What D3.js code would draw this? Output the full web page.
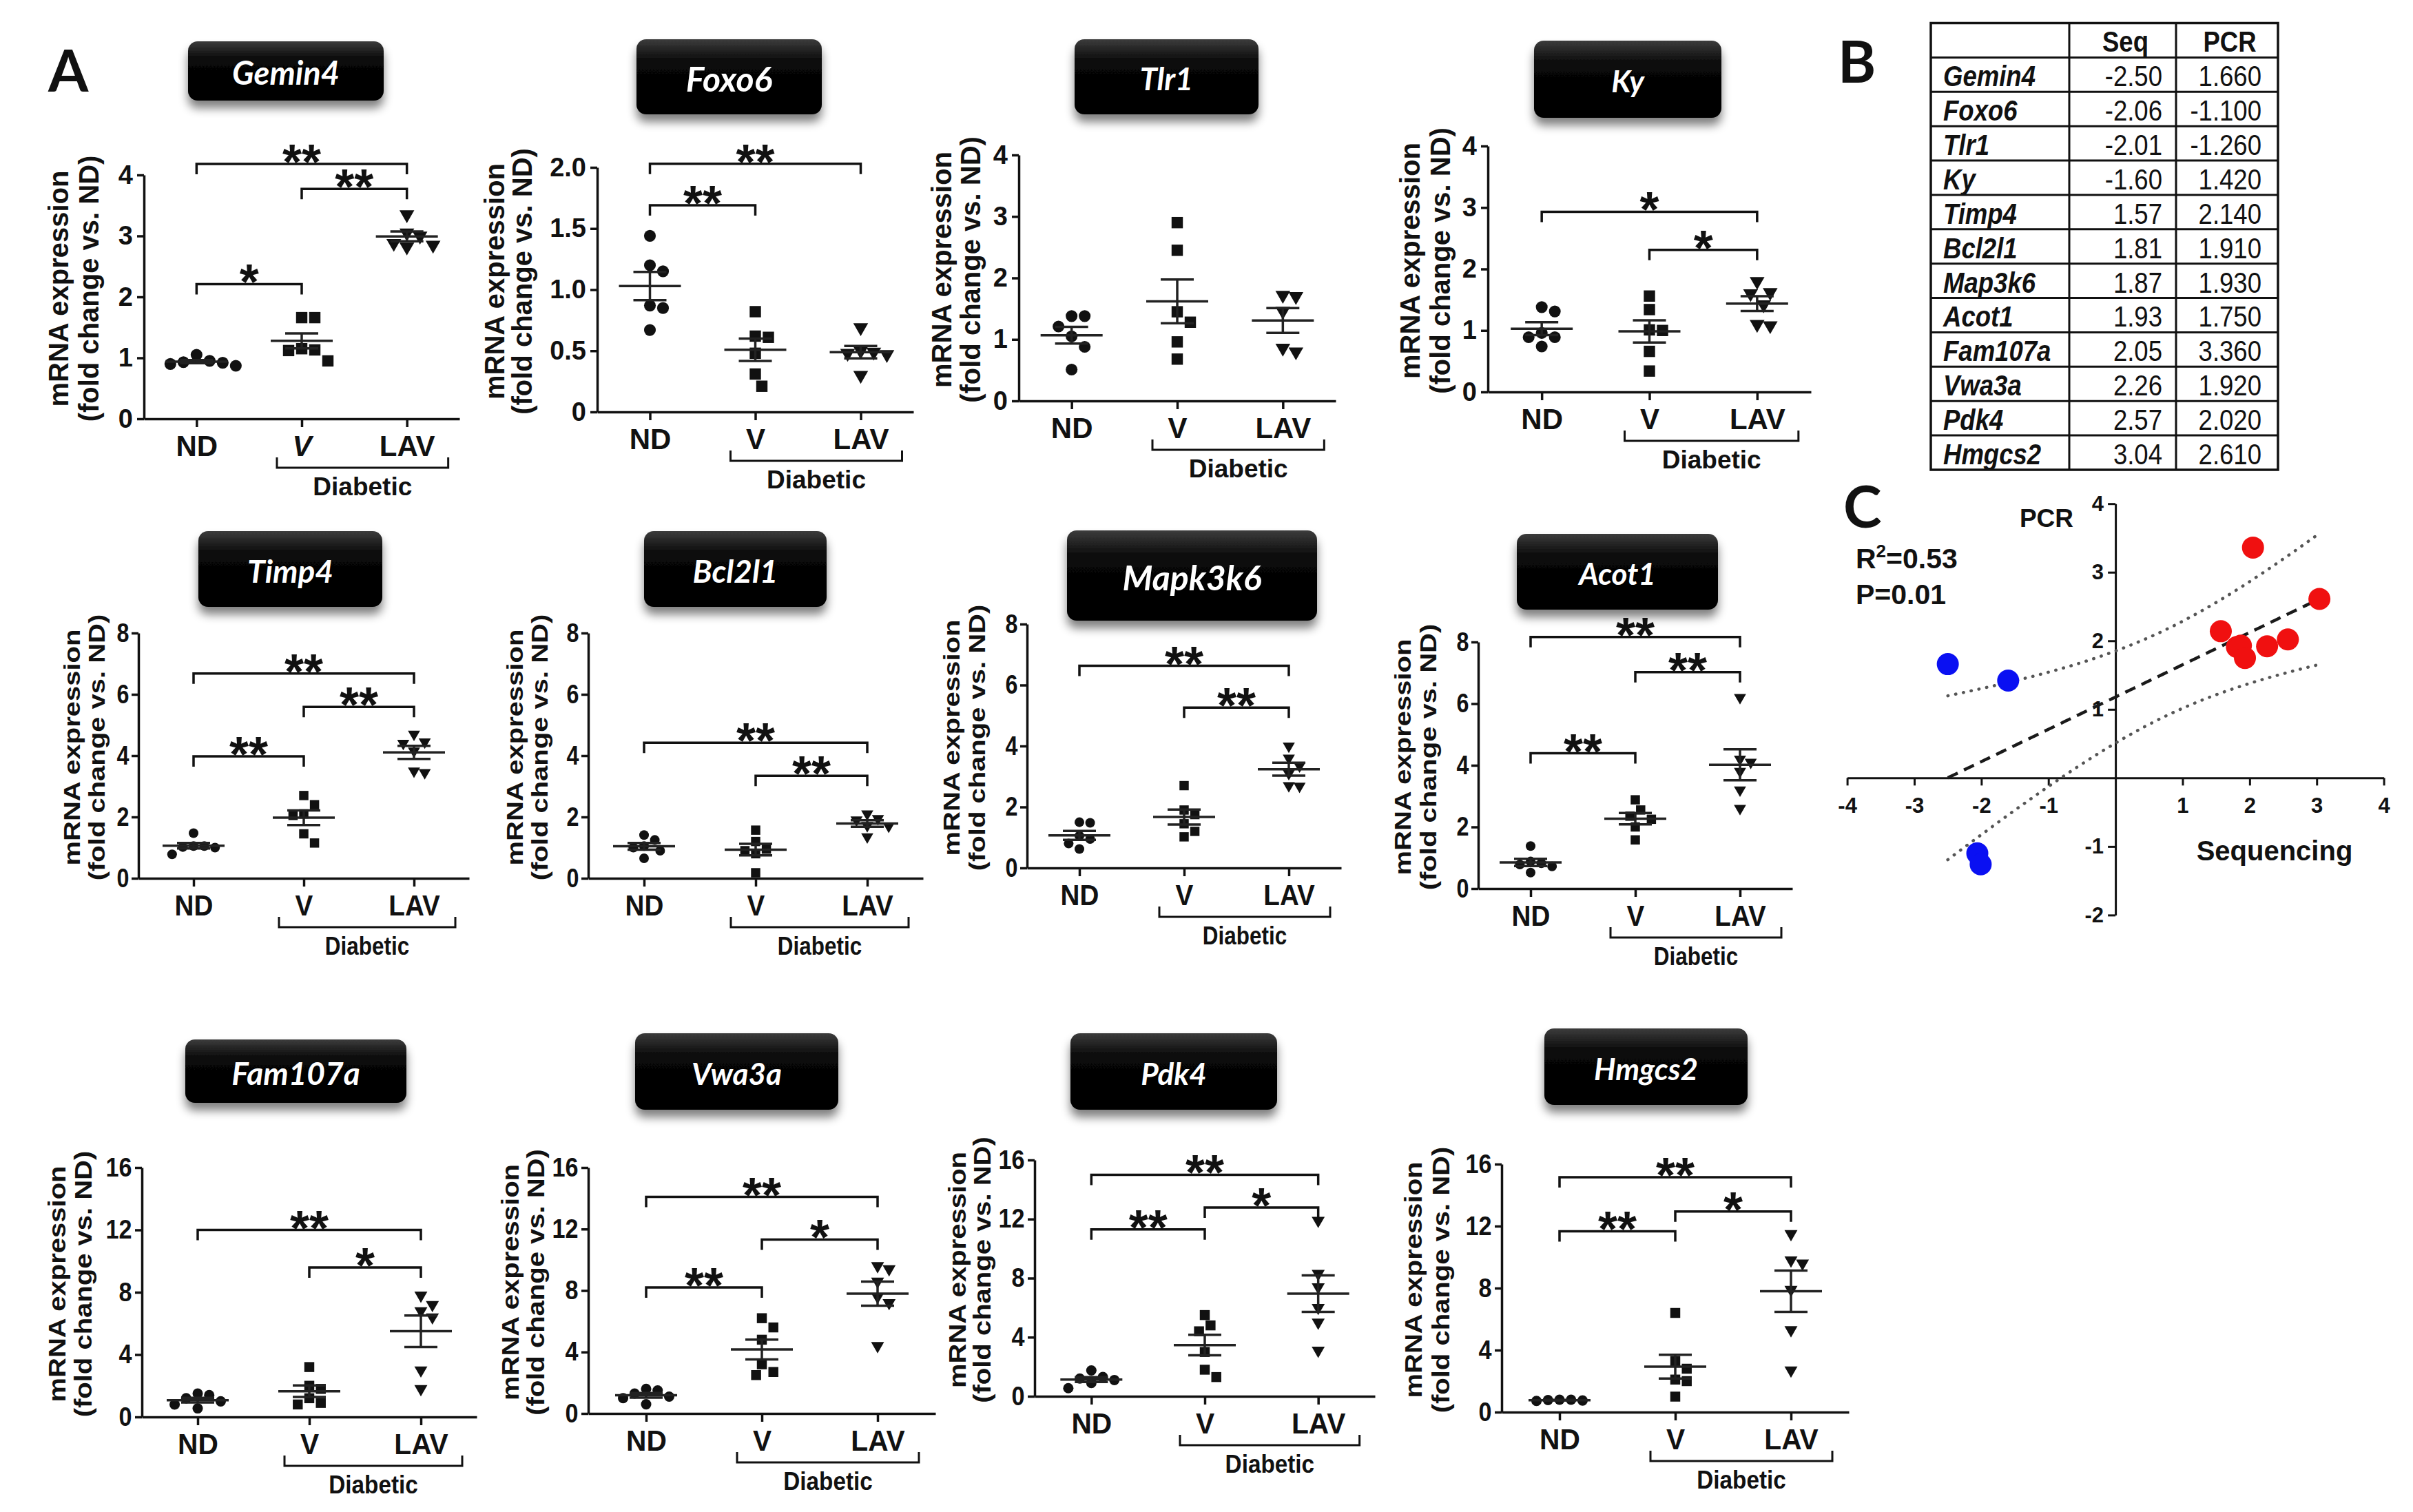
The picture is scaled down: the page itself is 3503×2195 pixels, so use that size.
<!DOCTYPE html>
<html lang="en">
<head>
<meta charset="UTF-8">
<title>mRNA expression, sequencing vs PCR</title>
<script src="https://d3js.org/d3.v7.min.js"></script>
<style>
  body { margin: 0; background: #fff; }
  svg text { font-family: "Liberation Sans", Arial, sans-serif; fill: #111; }
  .axis path, .axis line { fill: none; stroke: #111; stroke-width: 3.5; }
  .axis text { font-size: 38px; font-weight: bold; }
  .xax text { font-size: 42px; }
  .ytitle { font-size: 40px; font-weight: bold; }
  .stars { font-size: 72px; font-weight: bold; }
  .diab { font-size: 37px; font-weight: bold; }
  .boxlabel { font-family: Lato, "Open Sans", sans-serif !important; font-weight: bold; font-style: italic; fill: #fff !important; }
  .letter { font-family: Lato, "Open Sans", sans-serif !important; font-weight: bold; font-size: 84px; }
  .tbl { font-size: 42px; }
  .cax path, .cax line { fill: none; stroke: #111; stroke-width: 3; }
  .cax text { font-size: 31px; font-weight: bold; }
  .clabel { font-size: 40px; font-weight: bold; }
</style>
</head>
<body>
<svg id="fig" width="3503" height="2195"></svg>
<script>
// ---- panel A data: fold change vs ND, one array per animal group ----
var genes = ["Gemin4", "Foxo6", "Tlr1", "Ky", "Timp4", "Bcl2l1", "Mapk3k6", "Acot1", "Fam107a", "Vwa3a", "Pdk4", "Hmgcs2"];
var groups = ["ND", "V", "LAV"];

var ndValues = [
  [0.92, 1.05, 0.90, 0.95, 0.93, 0.87],
  [1.44, 1.20, 1.15, 0.87, 0.85, 0.67],
  [1.38, 1.38, 1.21, 1.05, 0.88, 0.51],
  [1.31, 1.38, 0.96, 0.89, 0.89, 0.74],
  [1.47, 1.05, 1.02, 1.00, 1.05, 0.78],
  [1.41, 1.25, 1.05, 1.00, 0.90, 0.65],
  [1.50, 1.48, 1.05, 0.95, 0.80, 0.62],
  [1.38, 0.88, 0.82, 0.78, 0.72, 0.52],
  [1.50, 1.40, 1.20, 1.00, 0.80, 0.55],
  [1.60, 1.50, 1.30, 1.10, 1.00, 0.60],
  [1.75, 1.30, 1.20, 1.10, 0.90, 0.55],
  [0.80, 0.75, 0.78, 0.72, 0.80]
];
var vValues = [
  [1.66, 1.66, 1.15, 1.13, 1.12, 0.95],
  [0.82, 0.62, 0.61, 0.48, 0.31, 0.21],
  [2.90, 2.45, 1.45, 1.28, 0.96, 0.68],
  [1.56, 1.34, 1.01, 1.00, 0.66, 0.34],
  [2.70, 2.40, 2.10, 2.05, 1.45, 1.15],
  [1.57, 1.20, 0.95, 0.90, 0.80, 0.18],
  [2.70, 1.90, 1.75, 1.45, 1.20, 1.02],
  [2.88, 2.55, 2.35, 2.25, 2.00, 1.58],
  [3.20, 2.00, 1.80, 1.20, 0.90, 0.80],
  [6.20, 5.60, 4.80, 3.20, 2.70, 2.50],
  [5.50, 4.80, 4.40, 3.00, 1.80, 1.30],
  [6.40, 3.30, 2.80, 2.10, 2.00, 1.00]
];
var lavValues = [
  [3.35, 3.05, 3.00, 2.88, 2.85, 2.82],
  [0.69, 0.50, 0.49, 0.47, 0.48, 0.30],
  [1.72, 1.70, 1.46, 0.86, 0.80],
  [1.80, 1.62, 1.60, 1.42, 1.10, 1.08],
  [4.70, 4.45, 4.40, 4.15, 3.50, 3.45],
  [2.10, 1.95, 1.90, 1.72, 1.70, 1.35],
  [4.00, 3.60, 3.35, 3.10, 2.70, 2.68],
  [6.20, 4.20, 4.10, 3.80, 3.20, 2.60],
  [7.80, 7.20, 6.80, 6.40, 3.00, 1.80],
  [9.60, 9.40, 8.60, 7.60, 7.20, 4.40],
  [11.90, 8.30, 7.40, 6.00, 5.00, 3.10],
  [11.50, 9.80, 9.60, 7.90, 5.30, 2.70]
];
var yMax = [4, 2, 4, 4, 8, 8, 8, 8, 16, 16, 16, 16];
var yStep = [1, 0.5, 1, 1, 2, 2, 2, 2, 4, 4, 4, 4];

// significance bars: [from group, to group, bar level (y units), label]
var sigBars = [
  [[0, 2, 4.18, "**"], [1, 2, 3.77, "**"], [0, 1, 2.21, "*"]],
  [[0, 2, 2.03, "**"], [0, 1, 1.69, "**"]],
  [],
  [[0, 2, 2.93, "*"], [1, 2, 2.31, "*"]],
  [[0, 2, 6.68, "**"], [1, 2, 5.59, "**"], [0, 1, 3.98, "**"]],
  [[0, 2, 4.42, "**"], [1, 2, 3.34, "**"]],
  [[0, 2, 6.63, "**"], [1, 2, 5.26, "**"]],
  [[0, 2, 8.16, "**"], [1, 2, 7.02, "**"], [0, 1, 4.39, "**"]],
  [[0, 2, 12.0, "**"], [1, 2, 9.59, "*"]],
  [[0, 2, 14.09, "**"], [1, 2, 11.32, "*"], [0, 1, 8.2, "**"]],
  [[0, 2, 15.0, "**"], [1, 2, 12.78, "*"], [0, 1, 11.3, "**"]],
  [[0, 2, 15.16, "**"], [1, 2, 12.94, "*"], [0, 1, 11.67, "**"]]
];

// ---- panel B / C data ----
var tableGenes = ["Gemin4", "Foxo6", "Tlr1", "Ky", "Timp4", "Bcl2l1", "Map3k6", "Acot1", "Fam107a", "Vwa3a", "Pdk4", "Hmgcs2"];
var seqFold = [-2.50, -2.06, -2.01, -1.60, 1.57, 1.81, 1.87, 1.93, 2.05, 2.26, 2.57, 3.04];
var pcrFold = [1.660, -1.100, -1.260, 1.420, 2.140, 1.910, 1.930, 1.750, 3.360, 1.920, 2.020, 2.610];
var xTicksC = [-4, -3, -2, -1, 1, 2, 3, 4];
var yTicksC = [-2, -1, 1, 2, 3, 4];

// ---- layout of the twelve small plots (pixels); sq = label squeeze, ms = marker scale ----
var panelLayout = [
  {ax: 209,  right: 667,  top: 254,  bottom: 608,  tx: -80, gap: 44, sq: 1,    ms: 1,    box: [273, 60, 284, 86, 47]},
  {ax: 867,  right: 1326, top: 243,  bottom: 598,  tx: -109, gap: 40, sq: 1,   ms: 1,    box: [924, 57, 269, 109, 50]},
  {ax: 1479, right: 1939, top: 225,  bottom: 582,  tx: -70, gap: 42, sq: 1,    ms: 1,    box: [1560, 57, 267, 109, 45]},
  {ax: 2160, right: 2629, top: 212,  bottom: 569,  tx: -69, gap: 44, sq: 1,    ms: 1,    box: [2227, 59, 272, 112, 44]},
  {ax: 201,  right: 681,  top: 919,  bottom: 1275, tx: -60, gap: 36, sq: 0.85, ms: 0.82, box: [288, 771, 267, 110, 46]},
  {ax: 854,  right: 1340, top: 919,  bottom: 1275, tx: -70, gap: 36, sq: 0.85, ms: 0.82, box: [935, 771, 265, 110, 46]},
  {ax: 1491, right: 1947, top: 906,  bottom: 1260, tx: -72, gap: 37, sq: 0.85, ms: 0.82, box: [1549, 770, 363, 131, 50]},
  {ax: 2146, right: 2602, top: 932,  bottom: 1290, tx: -72, gap: 37, sq: 0.85, ms: 0.82, box: [2202, 775, 292, 110, 44]},
  {ax: 206,  right: 692,  top: 1695, bottom: 2057, tx: -85, gap: 38, sq: 0.9,  ms: 0.88, box: [269, 1509, 321, 92, 46]},
  {ax: 854,  right: 1358, top: 1695, bottom: 2052, tx: -76, gap: 37, sq: 0.9,  ms: 0.88, box: [922, 1500, 295, 111, 44]},
  {ax: 1502, right: 1996, top: 1684, bottom: 2027, tx: -76, gap: 36, sq: 0.9,  ms: 0.88, box: [1554, 1500, 300, 111, 44]},
  {ax: 2180, right: 2684, top: 1690, bottom: 2050, tx: -88, gap: 40, sq: 0.9,  ms: 0.88, box: [2242, 1493, 295, 111, 44]}
];
var TABLE_SQ = 0.87;

var svg = d3.select("#fig");
var defs = svg.append("defs");

var grad = defs.append("linearGradient").attr("id", "boxgrad").attr("x1", 0).attr("y1", 0).attr("x2", 0).attr("y2", 1);
grad.append("stop").attr("offset", "0%").attr("stop-color", "#3c3c3c");
grad.append("stop").attr("offset", "30%").attr("stop-color", "#080808");
grad.append("stop").attr("offset", "100%").attr("stop-color", "#000");

var filt = defs.append("filter").attr("id", "shadow").attr("x", "-20%").attr("y", "-20%").attr("width", "140%").attr("height", "180%");
filt.append("feGaussianBlur").attr("in", "SourceAlpha").attr("stdDeviation", 7);
filt.append("feOffset").attr("dy", 11).attr("result", "off");
filt.append("feComponentTransfer").append("feFuncA").attr("type", "linear").attr("slope", 0.5);
var fm = filt.append("feMerge");
fm.append("feMergeNode");
fm.append("feMergeNode").attr("in", "SourceGraphic");

// simple swarm: spread points of equal height sideways
function swarm(ys, gap) {
  var order = d3.range(ys.length).sort(function(a, b) { return ys[a] - ys[b]; });
  var placed = [];
  var out = [];
  order.forEach(function(i) {
    var dx = 0;
    for (var k = 0; k < 20; k++) {
      var c = (k % 2 ? 1 : -1) * Math.ceil(k / 2) * gap / 2;
      var ok = placed.every(function(q) { return Math.hypot(q.dx - c, q.y - ys[i]) >= gap; });
      if (ok) { dx = c; break; }
    }
    var pt = {dx: dx, y: ys[i]};
    placed.push(pt);
    out[i] = pt;
  });
  return out;
}

// text placed at (x, y) and squeezed horizontally
function narrowText(parent, x, y, k) {
  return parent.append("text").attr("transform", "translate(" + x + "," + y + ") scale(" + k + ",1)");
}

var symbolTypes = [d3.symbolCircle, d3.symbolSquare, d3.symbolTriangle];
var symbolSizes = [230, 270, 200];

panelLayout.forEach(function(L, p) {
  var g = svg.append("g").attr("class", "panel");
  var x = d3.scalePoint().domain(groups).range([L.ax, L.right]).padding(0.5);
  var y = d3.scaleLinear().domain([0, yMax[p]]).range([L.bottom, L.top]);
  var fmt = yStep[p] < 1 ? function(d) { return d === 0 ? "0" : d.toFixed(1); } : d3.format("d");

  var ya = g.append("g").attr("class", "axis yax").attr("transform", "translate(" + L.ax + ",0)")
    .call(d3.axisLeft(y).tickValues(d3.range(0, yMax[p] + 1e-9, yStep[p])).tickFormat(fmt)
      .tickSize(10).tickSizeOuter(0).tickPadding(6));
  var xa = g.append("g").attr("class", "axis xax").attr("transform", "translate(0," + L.bottom + ")")
    .call(d3.axisBottom(x).tickSize(12).tickSizeOuter(0).tickPadding(12));
  if (L.sq < 1) {
    ya.selectAll("text").attr("transform", "scale(" + L.sq + ",1)");
    xa.selectAll("text").attr("transform", "scale(" + Math.min(1, L.sq + 0.07) + ",1)");
  }
  if (p === 0) xa.selectAll("text").filter(function(d) { return d === "V"; }).style("font-style", "italic");

  // y title, two lines
  var cyT = (L.top + L.bottom) / 2 - 12;
  var tSq = L.sq < 1 ? L.sq - 0.03 : 1;
  [["mRNA expression", L.tx - L.gap], ["(fold change vs. ND)", L.tx]].forEach(function(t) {
    g.append("text").attr("class", "ytitle")
      .attr("transform", "translate(" + (L.ax + t[1]) + "," + cyT + ") rotate(-90) scale(1," + tSq + ")")
      .attr("text-anchor", "middle").attr("dominant-baseline", "central").text(t[0]);
  });

  // dots, mean and SEM
  [ndValues[p], vValues[p], lavValues[p]].forEach(function(vals, k) {
    var cx = x(groups[k]);
    var pts = swarm(vals.map(y), 19 * L.ms);
    g.selectAll(null).data(pts).enter().append("path")
      .attr("d", d3.symbol().type(symbolTypes[k]).size(symbolSizes[k] * L.ms * L.ms))
      .attr("transform", function(d) { return "translate(" + (cx + d.dx) + "," + d.y + ")" + (k === 2 ? " rotate(180)" : ""); })
      .attr("fill", "#111");
    var m = d3.mean(vals), se = d3.deviation(vals) / Math.sqrt(vals.length);
    var ln = function(x1, y1, x2, y2) {
      g.append("line").attr("x1", x1).attr("y1", y1).attr("x2", x2).attr("y2", y2)
        .attr("stroke", "#222").attr("stroke-width", 3.5);
    };
    ln(cx - 45, y(m), cx + 45, y(m));
    ln(cx - 24, y(m + se), cx + 24, y(m + se));
    ln(cx - 24, y(m - se), cx + 24, y(m - se));
    ln(cx, y(m + se), cx, y(m - se));
  });

  // significance brackets
  sigBars[p].forEach(function(s) {
    var x1 = x(groups[s[0]]), x2 = x(groups[s[1]]), yb = y(s[2]);
    g.append("path").attr("d", "M" + x1 + "," + (yb + 15) + "V" + yb + "H" + x2 + "V" + (yb + 15))
      .attr("fill", "none").attr("stroke", "#111").attr("stroke-width", 3.5);
    g.append("text").attr("class", "stars").attr("x", (x1 + x2) / 2).attr("y", yb + 22)
      .attr("text-anchor", "middle").text(s[3]);
  });

  // Diabetic bracket
  var bx1 = x("V") - 36, bx2 = x("LAV") + 60, by = L.bottom + 71;
  g.append("path").attr("d", "M" + bx1 + "," + (by - 15) + "V" + by + "H" + bx2 + "V" + (by - 15))
    .attr("fill", "none").attr("stroke", "#111").attr("stroke-width", 3);
  narrowText(g, (bx1 + bx2) / 2, L.bottom + 98, L.sq).attr("class", "diab")
    .attr("text-anchor", "middle").attr("dominant-baseline", "central").text("Diabetic");

  // gene name box
  var b = L.box;
  g.append("rect").attr("x", b[0]).attr("y", b[1]).attr("width", b[2]).attr("height", b[3])
    .attr("rx", 14).attr("fill", "url(#boxgrad)").attr("filter", "url(#shadow)");
  g.append("text").attr("class", "boxlabel").attr("x", b[0] + b[2] / 2).attr("y", b[1] + b[3] / 2 + 2)
    .attr("text-anchor", "middle").attr("dominant-baseline", "central")
    .style("font-size", b[4] + "px").text(genes[p]);
});

svg.append("text").attr("class", "letter").attr("x", 70).attr("y", 133).text("A");
svg.append("text").attr("class", "letter").attr("x", 2668).attr("y", 120).text("B");
svg.append("text").attr("class", "letter").attr("x", 2676).attr("y", 766).text("C");

// ---- table B ----
var tb = {left: 2803, c1: 3004, c2: 3159, right: 3307, top: 33.5, bottom: 682};
var rowY = d3.scaleLinear().domain([0, tableGenes.length + 1]).range([tb.top, tb.bottom]);
var tg = svg.append("g");
tg.append("rect").attr("x", tb.left).attr("y", tb.top).attr("width", tb.right - tb.left).attr("height", tb.bottom - tb.top)
  .attr("fill", "none").attr("stroke", "#111").attr("stroke-width", 3.5);
d3.range(1, tableGenes.length + 1).forEach(function(i) {
  tg.append("line").attr("x1", tb.left).attr("x2", tb.right).attr("y1", rowY(i)).attr("y2", rowY(i))
    .attr("stroke", "#111").attr("stroke-width", 3);
});
[tb.c1, tb.c2].forEach(function(cx) {
  tg.append("line").attr("x1", cx).attr("x2", cx).attr("y1", tb.top).attr("y2", tb.bottom)
    .attr("stroke", "#111").attr("stroke-width", 3);
});
narrowText(tg, (tb.c1 + tb.c2) / 2 + 4, rowY(0.5) + 2, TABLE_SQ).attr("class", "tbl")
  .attr("text-anchor", "middle").attr("dominant-baseline", "central").style("font-weight", "bold").text("Seq");
narrowText(tg, (tb.c2 + tb.right) / 2 + 4, rowY(0.5) + 2, TABLE_SQ).attr("class", "tbl")
  .attr("text-anchor", "middle").attr("dominant-baseline", "central").style("font-weight", "bold").text("PCR");
tableGenes.forEach(function(name, i) {
  var yy = rowY(i + 1.5) + 2;
  narrowText(tg, tb.left + 18, yy, TABLE_SQ).attr("class", "tbl").attr("dominant-baseline", "central")
    .style("font-style", "italic").style("font-weight", "bold").text(name);
  narrowText(tg, tb.c2 - 20, yy, TABLE_SQ).attr("class", "tbl").attr("dominant-baseline", "central")
    .attr("text-anchor", "end").text(seqFold[i].toFixed(2));
  narrowText(tg, tb.right - 24, yy, TABLE_SQ).attr("class", "tbl").attr("dominant-baseline", "central")
    .attr("text-anchor", "end").text(pcrFold[i].toFixed(3));
});

// ---- scatter C: sequencing vs PCR with linear fit and 95% band ----
var cxs = d3.scaleLinear().domain([-4, 4]).range([2681.6, 3460.6]);
var cys = d3.scaleLinear().domain([-2, 4]).range([1328.4, 731.2]);
var cg = svg.append("g");
cg.append("g").attr("class", "cax").attr("transform", "translate(0," + cys(0) + ")")
  .call(d3.axisBottom(cxs).tickValues(xTicksC).tickFormat(d3.format("d")).tickSize(11).tickSizeOuter(0).tickPadding(18));
cg.append("g").attr("class", "cax").attr("transform", "translate(" + cxs(0) + ",0)")
  .call(d3.axisLeft(cys).tickValues(yTicksC).tickFormat(d3.format("d")).tickSize(11).tickSizeOuter(0).tickPadding(6));
cg.selectAll(".cax text").text(function(d) { return String(d).replace("\u2212", "-"); });

var n = seqFold.length;
var mx = d3.mean(seqFold), my = d3.mean(pcrFold);
var sxx = d3.sum(seqFold, function(v) { return (v - mx) * (v - mx); });
var sxy = d3.sum(seqFold, function(v, i) { return (v - mx) * (pcrFold[i] - my); });
var slope = sxy / sxx, icpt = my - slope * mx;
var ssr = d3.sum(seqFold, function(v, i) { var r = pcrFold[i] - (icpt + slope * v); return r * r; });
var sres = Math.sqrt(ssr / (n - 2));
var tcrit = 2.228; // t(0.975, df = 10)
var xs = d3.range(d3.min(seqFold), d3.max(seqFold), 0.05).concat([d3.max(seqFold)]);
var band = xs.map(function(v) {
  var h = tcrit * sres * Math.sqrt(1 / n + (v - mx) * (v - mx) / sxx);
  var f = icpt + slope * v;
  return {x: v, f: f, lo: f - h, hi: f + h};
});
var lineOf = function(key) { return d3.line().x(function(d) { return cxs(d.x); }).y(function(d) { return cys(d[key]); }); };
["lo", "hi"].forEach(function(key) {
  cg.append("path").datum(band).attr("d", lineOf(key)).attr("fill", "none")
    .attr("stroke", "#555").attr("stroke-width", 4.5).attr("stroke-linecap", "round").attr("stroke-dasharray", "0.5 11");
});
cg.append("path").datum(band).attr("d", lineOf("f")).attr("fill", "none")
  .attr("stroke", "#1a1a1a").attr("stroke-width", 4.5).attr("stroke-dasharray", "16 10");

cg.selectAll(null).data(seqFold).enter().append("circle")
  .attr("cx", function(d) { return cxs(d); })
  .attr("cy", function(d, i) { return cys(pcrFold[i]); })
  .attr("r", 16)
  .attr("fill", function(d) { return d < 0 ? "#0a10f2" : "#f01010"; });

cg.append("text").attr("class", "clabel").attr("x", 2971).attr("y", 752).attr("text-anchor", "middle")
  .attr("dominant-baseline", "central").style("font-size", "37px").text("PCR");
cg.append("text").attr("class", "clabel").attr("x", 3302).attr("y", 1235).attr("text-anchor", "middle")
  .attr("dominant-baseline", "central").text("Sequencing");
var r2 = cg.append("text").attr("class", "clabel").attr("x", 2694).attr("y", 825).style("font-size", "41px");
r2.append("tspan").text("R");
r2.append("tspan").attr("dy", -16).style("font-size", "26px").text("2");
r2.append("tspan").attr("dy", 16).text("=0.53");
cg.append("text").attr("class", "clabel").attr("x", 2694).attr("y", 877).style("font-size", "41px").text("P=0.01");
</script>
</body>
</html>
